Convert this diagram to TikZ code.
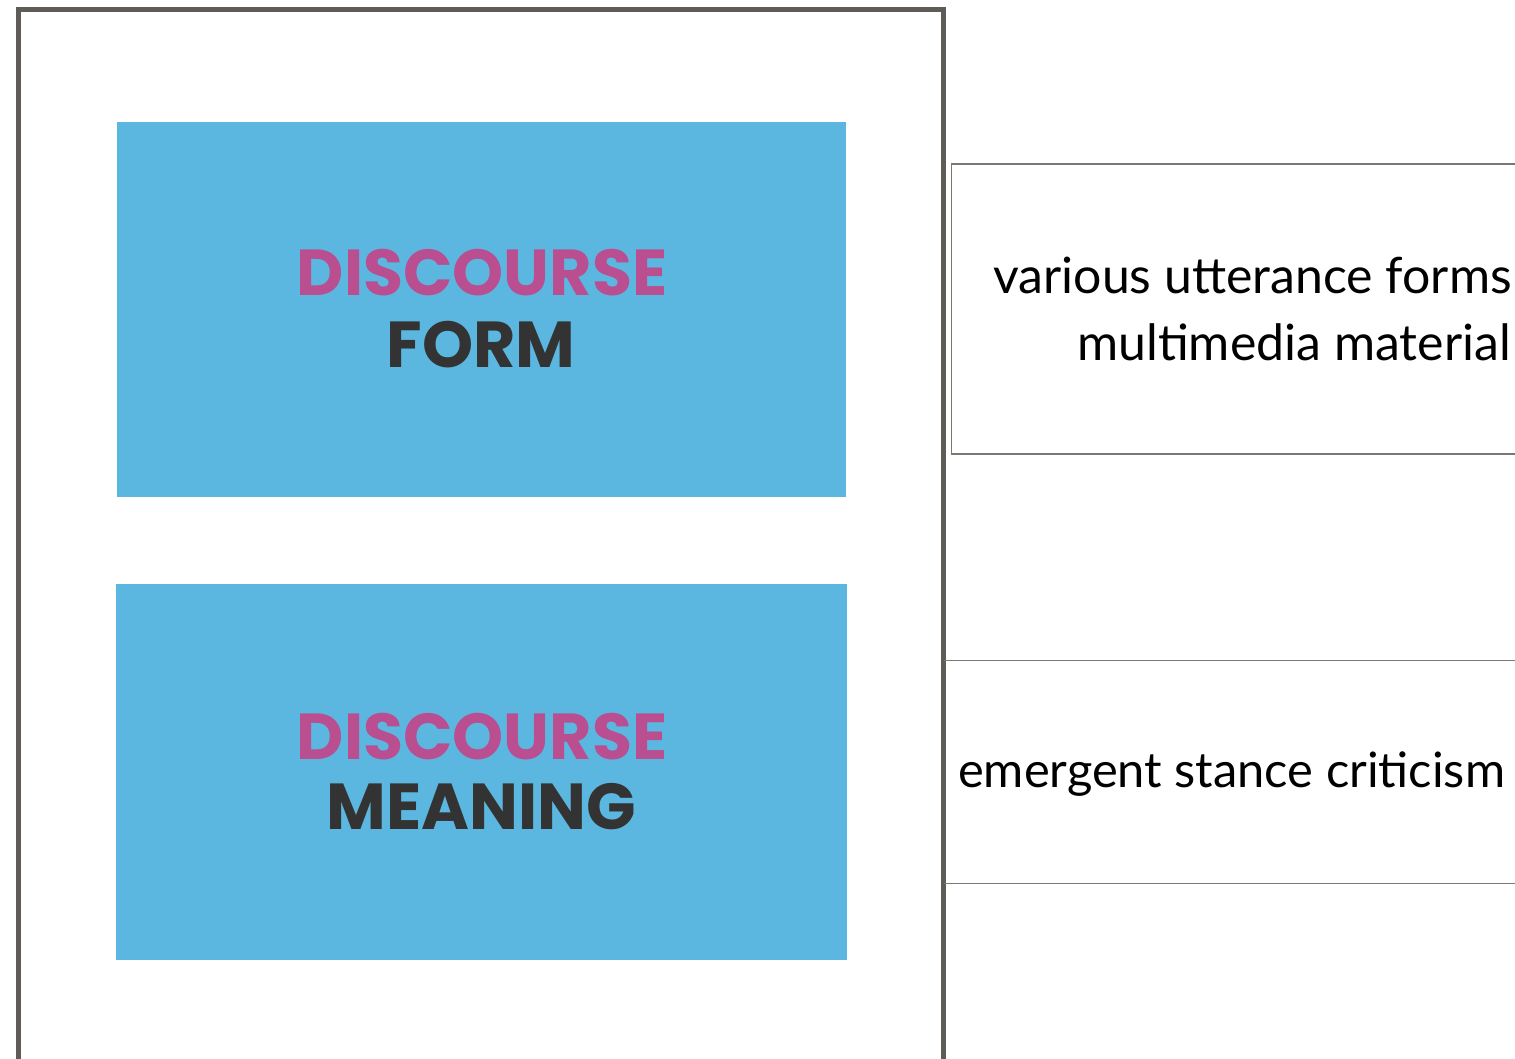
\documentclass[tikz,border=0pt]{standalone}
\usepackage{fontspec}
\setmainfont{Lato}
\newfontfamily\headfont{Poppins}[UprightFont=* Bold]
\definecolor{framegray}{HTML}{5F5B57}
\definecolor{linegray}{HTML}{7A7775}
\definecolor{skyblue}{HTML}{5CB7E0}
\definecolor{magenta}{HTML}{B94E91}
\definecolor{darktext}{HTML}{333333}
\tikzset{
  bluebox/.style={fill=skyblue, draw=none, minimum width=#1, inner sep=0pt},
  headtop/.style={font=\headfont\fontsize{65}{65}\selectfont, text=magenta, anchor=base, inner sep=0pt},
  headbot/.style={font=\headfont\fontsize{65}{65}\selectfont, text=darktext, anchor=base, inner sep=0pt},
  bodytext/.style={font=\fontsize{50}{50}\selectfont, text=black, inner sep=0pt},
}
\begin{document}
\begin{tikzpicture}[x=1pt,y=-1pt]
\useasboundingbox (0,0) rectangle (1515,1058);
\clip (0,0) rectangle (1515,1058);
% outer frame
\draw[framegray, line width=5pt] (18.5,9.5) rectangle (943.5,1080);
% blue boxes
\node[bluebox=729pt, minimum height=375pt] (form) at (481.5,309.5) {};
\node[bluebox=731pt, minimum height=376pt] (meaning) at (481.5,772) {};
\node[headtop] (d1) at (482,295) {DISCOURSE};
\node[headbot] (f1) at (481,367) {FORM};
\node[headtop] (d2) at (482,759) {DISCOURSE};
\node[headbot] (m2) at (481,829) {MEANING};
% right side
\node[draw=linegray, line width=1.8pt, minimum width=620pt, minimum height=290pt, inner sep=0pt] (utt) at (1261.5,309) {};
\node[bodytext, anchor=base east] (t1) at (1512,293) {various utterance forms};
\node[bodytext, anchor=base east] (t2) at (1511,360) {multimedia material};
\coordinate (l1a) at (943.5,660.5);
\coordinate (l1b) at (1515,660.5);
\coordinate (l2a) at (943.5,883.5);
\coordinate (l2b) at (1515,883.5);
\draw[linegray, line width=1.8pt] (l1a) -- (l1b);
\draw[linegray, line width=1.8pt] (l2a) -- (l2b);
\node[bodytext, font=\fontsize{48.8}{48.8}\selectfont, anchor=base west] (t3) at (958,787) {emergent stance criticism};
\end{tikzpicture}
\end{document}
